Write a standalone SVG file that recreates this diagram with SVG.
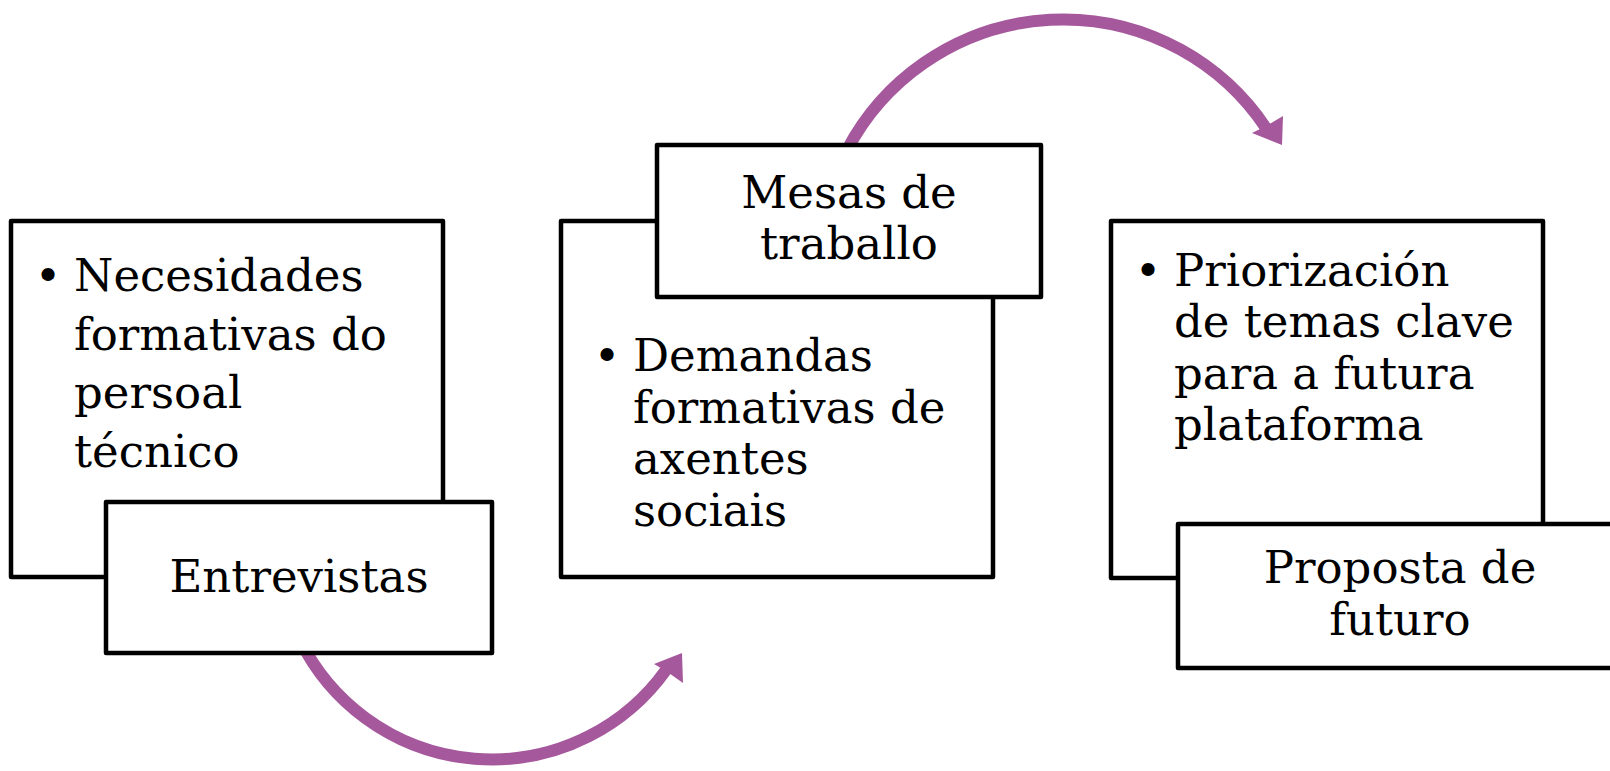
<svg xmlns="http://www.w3.org/2000/svg" width="1610" height="771" viewBox="0 0 1610 771">
<style>
.box{fill:#ffffff;stroke:#000000;stroke-width:4.5;stroke-linejoin:round}
.t{font-family:"DejaVu Serif","Liberation Serif",serif;font-size:45px;fill:#000000}
.c{text-anchor:middle}
.arc{fill:none;stroke:#a6589c;stroke-width:12}
.head{fill:#a6589c}
</style>
<rect width="1610" height="771" fill="#ffffff"/>
<g id="connectors">
<path class="arc" d="M 300 640 A 214 214 0 0 0 666 670"/>
<polygon class="head" points="682,653 654,664 666,671 683,683"/>
<path class="arc" d="M 847 150 A 244 244 0 0 1 1266 128"/>
<polygon class="head" points="1282,145 1283,116 1268,125 1252,133"/>
</g>
<g id="node-necesidades">
<rect class="box" x="11" y="221" width="432" height="356"/>
<text class="t c" x="48" y="291">•</text>
<text class="t" x="74" y="291">Necesidades</text>
<text class="t" x="74" y="349.5">formativas do</text>
<text class="t" x="74" y="408">persoal</text>
<text class="t" x="74" y="466.5">técnico</text>
</g>
<g id="node-entrevistas">
<rect class="box" x="106" y="502" width="386" height="151"/>
<text class="t c" x="299" y="592">Entrevistas</text>
</g>
<g id="node-demandas">
<rect class="box" x="561" y="221" width="432" height="356"/>
<text class="t c" x="607" y="371">•</text>
<text class="t" x="633" y="371">Demandas</text>
<text class="t" x="633" y="422.5">formativas de</text>
<text class="t" x="633" y="474">axentes</text>
<text class="t" x="633" y="525.5">sociais</text>
</g>
<g id="node-mesas">
<rect class="box" x="657" y="145" width="384" height="152"/>
<text class="t c" x="849" y="208">Mesas de</text>
<text class="t c" x="849" y="259">traballo</text>
</g>
<g id="node-priorizacion">
<rect class="box" x="1111" y="221" width="432" height="357"/>
<text class="t c" x="1148" y="286">•</text>
<text class="t" x="1174" y="286">Priorización</text>
<text class="t" x="1174" y="337">de temas clave</text>
<text class="t" x="1174" y="388.5">para a futura</text>
<text class="t" x="1174" y="440">plataforma</text>
</g>
<g id="node-proposta">
<rect class="box" x="1178" y="524" width="450" height="144"/>
<text class="t c" x="1400" y="583">Proposta de</text>
<text class="t c" x="1400" y="635">futuro</text>
</g>
</svg>
